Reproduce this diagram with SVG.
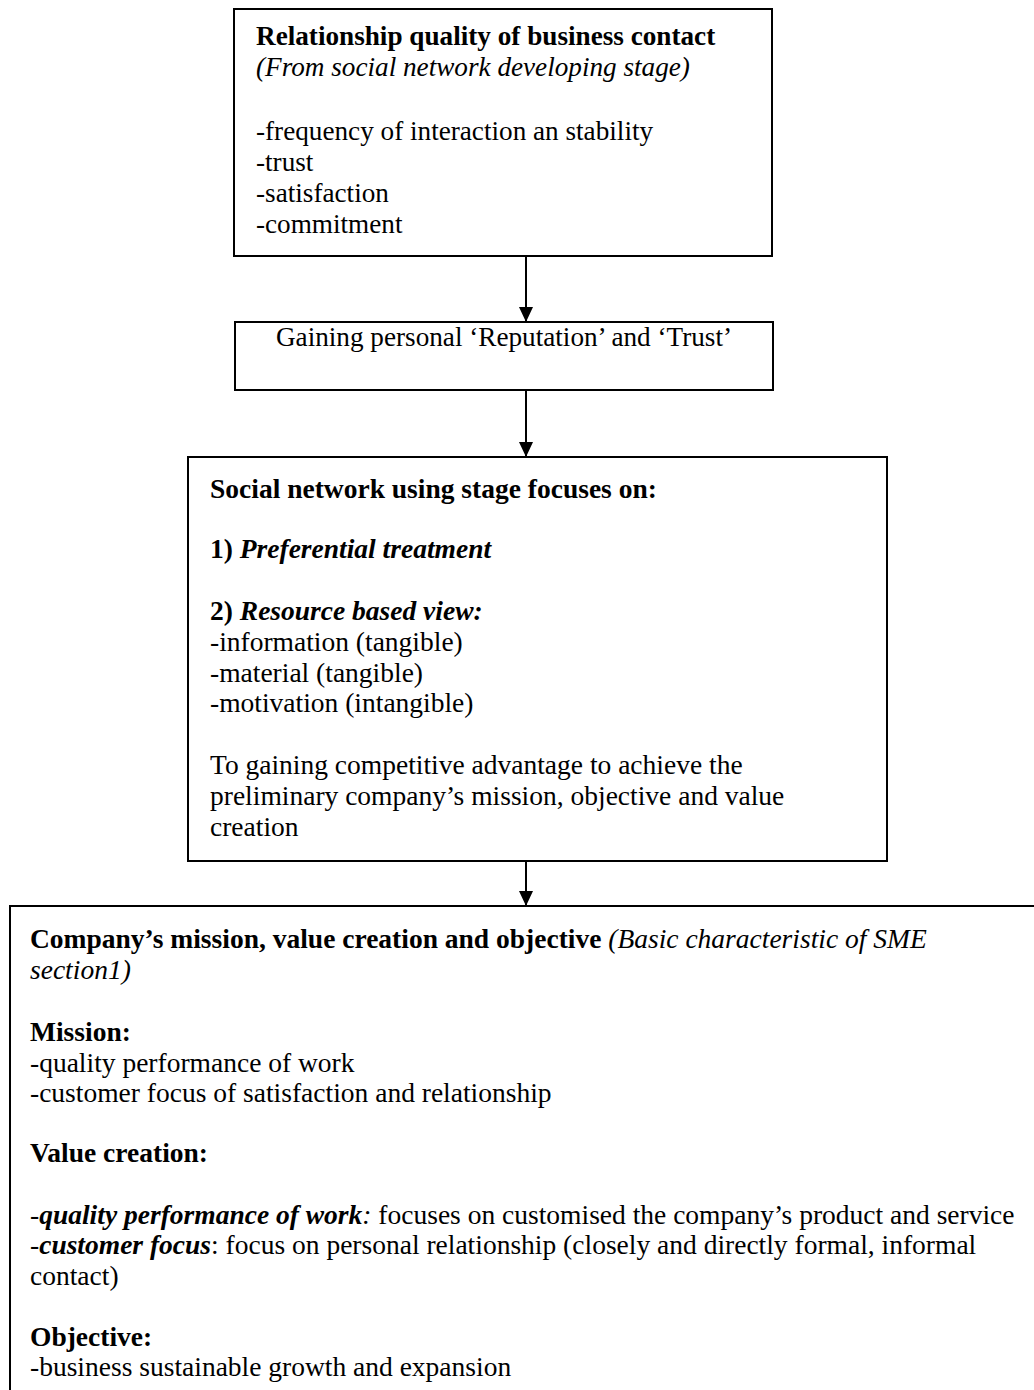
<svg xmlns="http://www.w3.org/2000/svg" width="1034" height="1390" viewBox="0 0 1034 1390">
  <style>
    .box { fill: #fff; stroke: #000; stroke-width: 2; }
    .t { font-family: "Liberation Serif", "Times New Roman", serif; font-size: 27.2px; fill: #000; }
    .wide .t { font-size: 27.5px; }
    .b { font-weight: bold; }
    .i { font-style: italic; }
    .link { stroke: #000; stroke-width: 2; fill: none; }
  </style>
  <defs>
    <marker id="arrow" markerUnits="userSpaceOnUse" markerWidth="16" markerHeight="16" refX="15" refY="7" orient="auto">
      <path d="M0,0 L15,7 L0,14 Z" fill="#000"/>
    </marker>
  </defs>
  <rect width="1034" height="1390" fill="#fff"/>

  <g id="connectors">
    <line class="link" x1="526" y1="256" x2="526" y2="322" marker-end="url(#arrow)"/>
    <line class="link" x1="526" y1="390" x2="526" y2="457" marker-end="url(#arrow)"/>
    <line class="link" x1="526" y1="861" x2="526" y2="906" marker-end="url(#arrow)"/>
  </g>

  <g id="relationship-quality">
    <rect class="box" x="234" y="9" width="538" height="247"/>
    <text class="t b" x="256" y="45">Relationship quality of business contact</text>
    <text class="t i" x="256" y="76">(From social network developing stage)</text>
    <text class="t" x="256" y="140">-frequency of interaction an stability</text>
    <text class="t" x="256" y="171">-trust</text>
    <text class="t" x="256" y="202">-satisfaction</text>
    <text class="t" x="256" y="233">-commitment</text>
  </g>

  <g id="reputation-trust">
    <rect class="box" x="235" y="322" width="538" height="68"/>
    <text class="t" x="504" y="346" text-anchor="middle">Gaining personal ‘Reputation’ and ‘Trust’</text>
  </g>

  <g id="using-stage" class="wide">
    <rect class="box" x="188" y="457" width="699" height="404"/>
    <text class="t b" x="210" y="498">Social network using stage focuses on:</text>
    <text class="t b" x="210" y="558">1) <tspan class="i">Preferential treatment</tspan></text>
    <text class="t b" x="210" y="620">2) <tspan class="i">Resource based view:</tspan></text>
    <text class="t" x="210" y="651">-information (tangible)</text>
    <text class="t" x="210" y="682">-material (tangible)</text>
    <text class="t" x="210" y="712">-motivation (intangible)</text>
    <text class="t" x="210" y="774">To gaining competitive advantage to achieve the</text>
    <text class="t" x="210" y="805">preliminary company’s mission, objective and value</text>
    <text class="t" x="210" y="836">creation</text>
  </g>

  <g id="mission-value-objective" class="wide">
    <rect class="box" x="10" y="906" width="1040" height="500"/>
    <text class="t" x="30" y="948"><tspan class="b">Company’s mission, value creation and objective</tspan> <tspan class="i">(Basic characteristic of SME</tspan></text>
    <text class="t i" x="30" y="979">section1)</text>
    <text class="t b" x="30" y="1041">Mission:</text>
    <text class="t" x="30" y="1072">-quality performance of work</text>
    <text class="t" x="30" y="1102">-customer focus of satisfaction and relationship</text>
    <text class="t b" x="30" y="1162">Value creation:</text>
    <text class="t" x="30" y="1224"><tspan class="i">-</tspan><tspan class="b i">quality performance of work</tspan><tspan class="i">:</tspan> focuses on customised the company’s product and service</text>
    <text class="t" x="30" y="1254">-<tspan class="b i">customer focus</tspan>: focus on personal relationship (closely and directly formal, informal</text>
    <text class="t" x="30" y="1285">contact)</text>
    <text class="t b" x="30" y="1346">Objective:</text>
    <text class="t" x="30" y="1376">-business sustainable growth and expansion</text>
  </g>
</svg>
